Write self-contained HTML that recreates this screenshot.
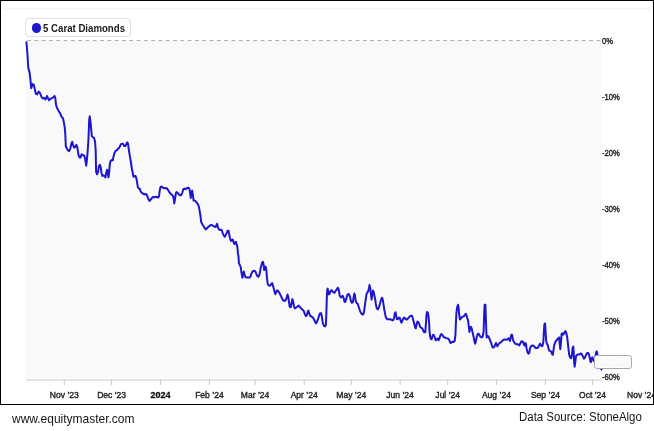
<!DOCTYPE html>
<html><head><meta charset="utf-8"><style>
html,body{margin:0;padding:0;background:#fff;}
body{width:654px;height:431px;position:relative;overflow:hidden;font-family:"Liberation Sans",Arial,sans-serif;}
#box{position:absolute;left:0;top:0;width:654px;height:405px;border:1px solid #000;box-sizing:border-box;}
#bar{position:absolute;left:2px;top:8px;width:649px;height:2px;background:#f7f7f7;border-radius:1px;}
svg{position:absolute;left:0;top:0;}
.xl{font-size:9px;fill:#262626;stroke:#262626;stroke-width:0.4px;}
.b{font-weight:bold;fill:#111;stroke:#111;stroke-width:0.3px;}
.yl{font-size:9px;fill:#262626;stroke:#262626;stroke-width:0.4px;}
#legend{position:absolute;left:25px;top:18px;width:106px;height:19px;border:1px solid #dde0e6;border-radius:4px;box-sizing:border-box;background:#fff;}
#dot{position:absolute;left:31.5px;top:23.3px;width:9.6px;height:9.6px;border-radius:50%;background:#1e16cc;}
#ltext{position:absolute;left:43px;top:21px;font-size:11px;font-weight:bold;color:#1a1a1a;line-height:14px;white-space:nowrap;transform:scaleX(0.877);transform-origin:0 0;}
#tip{position:absolute;left:594px;top:355px;width:37.5px;height:13.6px;border:1px solid #a9a9a9;border-radius:3px;box-sizing:border-box;background:#f9f9f9;box-shadow:inset 0 0 0 1px #fff;font-size:8.5px;color:#fff;text-align:center;line-height:11.6px;white-space:nowrap;overflow:hidden;}
#f1{position:absolute;left:12px;top:411px;font-size:13px;color:#151515;white-space:nowrap;transform:scaleX(0.921);transform-origin:0 0;}
#f2{position:absolute;left:519px;top:410px;font-size:12px;color:#151515;white-space:nowrap;transform:scaleX(0.954);transform-origin:0 0;}
</style></head><body>
<div id="box"></div>
<div id="bar"></div>
<svg width="654" height="405" viewBox="0 0 654 405">
<rect x="26" y="41" width="575.5" height="337" fill="#f9f9f9"/>
<line x1="27" y1="40.5" x2="601.5" y2="40.5" stroke="#b0b0b0" stroke-width="1" stroke-dasharray="4 3.3"/>
<line x1="26" y1="380" x2="601.5" y2="380" stroke="#dadada" stroke-width="1.5"/>
<line x1="64.3" y1="380" x2="64.3" y2="385" stroke="#c8c8c8" stroke-width="1"/>
<line x1="111.6" y1="380" x2="111.6" y2="385" stroke="#c8c8c8" stroke-width="1"/>
<line x1="160.5" y1="380" x2="160.5" y2="385" stroke="#c8c8c8" stroke-width="1"/>
<line x1="209.4" y1="380" x2="209.4" y2="385" stroke="#c8c8c8" stroke-width="1"/>
<line x1="255.1" y1="380" x2="255.1" y2="385" stroke="#c8c8c8" stroke-width="1"/>
<line x1="304.2" y1="380" x2="304.2" y2="385" stroke="#c8c8c8" stroke-width="1"/>
<line x1="351.3" y1="380" x2="351.3" y2="385" stroke="#c8c8c8" stroke-width="1"/>
<line x1="400.1" y1="380" x2="400.1" y2="385" stroke="#c8c8c8" stroke-width="1"/>
<line x1="447.7" y1="380" x2="447.7" y2="385" stroke="#c8c8c8" stroke-width="1"/>
<line x1="496.4" y1="380" x2="496.4" y2="385" stroke="#c8c8c8" stroke-width="1"/>
<line x1="545.4" y1="380" x2="545.4" y2="385" stroke="#c8c8c8" stroke-width="1"/>
<line x1="592.6" y1="380" x2="592.6" y2="385" stroke="#c8c8c8" stroke-width="1"/>
<text transform="translate(64.3,397.5) scale(0.95,1)" text-anchor="middle" class="xl">Nov &#8217;23</text>
<text transform="translate(111.6,397.5) scale(0.95,1)" text-anchor="middle" class="xl">Dec &#8217;23</text>
<text transform="translate(160.5,397.5) scale(1.0,1)" text-anchor="middle" class="xl b">2024</text>
<text transform="translate(209.4,397.5) scale(0.95,1)" text-anchor="middle" class="xl">Feb &#8217;24</text>
<text transform="translate(255.1,397.5) scale(0.95,1)" text-anchor="middle" class="xl">Mar &#8217;24</text>
<text transform="translate(304.2,397.5) scale(0.95,1)" text-anchor="middle" class="xl">Apr &#8217;24</text>
<text transform="translate(351.3,397.5) scale(0.95,1)" text-anchor="middle" class="xl">May &#8217;24</text>
<text transform="translate(400.1,397.5) scale(0.95,1)" text-anchor="middle" class="xl">Jun &#8217;24</text>
<text transform="translate(447.7,397.5) scale(0.95,1)" text-anchor="middle" class="xl">Jul &#8217;24</text>
<text transform="translate(496.4,397.5) scale(0.95,1)" text-anchor="middle" class="xl">Aug &#8217;24</text>
<text transform="translate(545.4,397.5) scale(0.95,1)" text-anchor="middle" class="xl">Sep &#8217;24</text>
<text transform="translate(592.6,397.5) scale(0.95,1)" text-anchor="middle" class="xl">Oct &#8217;24</text>
<text transform="translate(641.5,397.5) scale(0.95,1)" text-anchor="middle" class="xl">Nov &#8217;24</text>
<text transform="translate(602,43.6) scale(0.85,1)" class="yl">0%</text>
<text transform="translate(602,99.7) scale(0.85,1)" class="yl">-10%</text>
<text transform="translate(602,155.8) scale(0.85,1)" class="yl">-20%</text>
<text transform="translate(602,211.9) scale(0.85,1)" class="yl">-30%</text>
<text transform="translate(602,268.0) scale(0.85,1)" class="yl">-40%</text>
<text transform="translate(602,324.1) scale(0.85,1)" class="yl">-50%</text>
<text transform="translate(602,380.2) scale(0.85,1)" class="yl">-60%</text>
<path d="M26.4 42.2 L27.5 54.7 L28.2 67.2 L29.6 72.8 L30.3 78.4 L31.2 88.1 L32.6 84.0 L33.7 84.7 L34.9 89.5 L35.8 93.7 L37.2 94.4 L38.6 91.6 L40.0 93.0 L41.4 96.7 L42.8 98.5 L44.2 97.8 L45.6 99.5 L47.0 96.0 L47.9 98.1 L49.1 100.2 L50.4 98.8 L51.8 98.1 L53.2 97.4 L54.6 96.0 L55.3 98.1 L56.0 104.4 L57.0 107.9 L58.8 111.3 L60.2 113.4 L61.6 116.9 L63.0 118.3 L64.0 123.2 L64.8 128.0 L65.3 134.3 L65.8 146.2 L67.0 148.7 L68.1 150.4 L69.1 151.1 L70.4 148.3 L71.4 143.4 L72.3 141.8 L73.2 145.5 L74.2 147.6 L75.3 146.9 L76.4 144.8 L77.4 147.6 L78.4 154.6 L79.5 157.4 L80.6 157.4 L81.6 154.3 L83.0 155.3 L84.4 155.7 L85.3 160.1 L86.2 165.7 L86.9 160.1 L87.6 151.8 L88.3 142.0 L88.8 130.9 L89.2 119.7 L89.7 116.3 L90.4 121.1 L91.1 128.1 L91.8 135.8 L92.7 137.2 L94.1 137.9 L95.1 142.0 L95.7 150.9 L96.1 171.8 L97.1 174.3 L98.1 171.8 L98.9 166.2 L99.9 164.8 L100.8 167.6 L101.5 173.2 L102.4 176.0 L103.4 175.3 L104.5 176.0 L105.4 177.4 L106.4 171.8 L107.1 169.7 L108.0 174.6 L108.5 177.4 L109.2 171.8 L109.8 164.1 L110.6 160.9 L111.7 159.9 L112.8 160.4 L113.5 156.5 L114.5 153.0 L115.6 150.9 L117.0 150.2 L118.0 148.8 L119.0 148.1 L120.1 146.0 L121.2 143.9 L122.3 143.6 L123.3 144.3 L124.2 146.0 L125.4 146.0 L126.3 144.3 L127.3 142.3 L128.1 143.9 L128.8 149.5 L129.8 155.8 L130.9 162.0 L131.9 169.0 L132.4 171.3 L133.5 176.8 L134.5 176.1 L135.6 176.1 L136.5 178.9 L137.2 183.1 L137.9 187.3 L138.8 188.4 L139.7 188.7 L140.7 191.5 L141.8 192.9 L143.2 193.6 L144.2 194.5 L145.3 194.0 L146.4 194.2 L147.4 196.3 L148.4 199.1 L149.5 200.9 L150.6 199.8 L151.6 198.4 L152.7 197.0 L154.0 197.3 L155.1 197.0 L156.2 196.8 L157.3 197.0 L158.1 197.7 L159.0 196.3 L159.7 190.8 L160.4 187.3 L161.3 186.6 L162.3 187.0 L163.4 188.0 L164.5 188.4 L165.8 188.0 L166.9 188.4 L167.9 189.8 L169.0 191.5 L169.9 193.0 L171.3 194.4 L172.7 195.5 L173.6 197.9 L174.3 203.4 L175.0 199.2 L175.9 193.0 L176.6 192.0 L177.8 193.0 L178.9 194.4 L180.3 195.5 L181.4 194.8 L182.4 192.3 L183.4 189.2 L184.5 188.5 L185.6 189.2 L187.0 188.1 L188.4 187.8 L189.4 188.8 L190.1 193.0 L190.8 197.9 L191.5 192.3 L192.2 190.6 L192.9 195.1 L193.6 200.6 L194.5 200.4 L195.6 201.3 L196.8 202.7 L198.1 204.5 L199.1 207.6 L199.8 211.8 L200.5 216.0 L201.1 221.7 L202.5 224.5 L204.2 227.3 L205.8 229.4 L207.7 227.6 L209.5 225.9 L211.1 224.8 L212.8 225.6 L214.3 226.6 L215.6 227.0 L216.4 225.2 L217.1 223.8 L217.8 226.6 L218.8 229.4 L220.2 230.1 L221.6 229.8 L222.6 232.9 L223.7 235.4 L224.8 236.8 L225.8 234.9 L226.7 232.9 L227.6 230.8 L228.6 230.8 L229.2 234.2 L229.9 237.7 L230.9 240.9 L231.8 240.5 L232.7 239.5 L233.7 242.6 L234.4 244.0 L235.1 242.3 L235.9 241.9 L236.6 244.0 L237.3 246.8 L238.0 253.7 L238.5 256.1 L238.9 263.1 L239.9 265.2 L240.8 267.3 L241.5 272.9 L242.4 277.7 L243.1 274.2 L243.8 271.5 L244.5 274.2 L245.4 277.0 L246.8 277.5 L248.2 277.5 L249.6 277.5 L250.6 276.3 L251.4 273.6 L252.4 271.7 L253.8 270.8 L255.2 271.2 L256.2 273.6 L257.3 275.9 L258.3 276.8 L259.4 275.0 L260.3 270.1 L261.2 265.9 L262.2 262.4 L262.9 261.7 L263.6 264.5 L264.2 270.1 L264.9 268.0 L265.6 266.6 L266.3 269.4 L267.0 278.4 L267.7 284.0 L268.7 285.4 L269.8 285.8 L270.9 284.7 L272.1 283.1 L273.1 286.1 L274.2 290.3 L275.3 294.2 L276.3 291.7 L277.2 290.3 L278.4 291.4 L279.5 293.1 L280.9 295.9 L282.3 299.0 L283.6 300.8 L285.0 300.8 L286.0 299.4 L286.7 297.3 L287.5 294.5 L288.4 297.3 L289.1 302.9 L289.8 307.0 L290.9 307.0 L291.7 302.2 L292.4 299.0 L293.1 301.5 L294.0 306.3 L294.8 308.4 L296.0 307.7 L297.2 306.8 L298.6 305.6 L299.7 306.8 L300.9 308.2 L302.3 309.5 L303.7 310.9 L304.8 314.0 L305.9 316.1 L306.9 315.4 L307.8 311.3 L308.5 310.6 L309.2 313.4 L310.2 315.9 L311.3 316.5 L312.7 317.3 L313.8 319.0 L314.7 321.1 L315.9 323.2 L316.8 322.5 L317.8 319.7 L318.9 316.2 L320.0 313.4 L321.0 313.1 L321.7 315.5 L322.4 320.4 L323.1 323.9 L324.1 326.0 L325.2 326.4 L325.9 324.6 L326.3 314.8 L326.6 305.1 L326.9 295.3 L327.3 289.7 L327.7 288.6 L328.4 291.8 L329.0 294.6 L329.7 293.2 L330.3 291.8 L331.5 290.0 L332.6 291.4 L333.6 292.3 L334.5 292.8 L335.6 290.9 L336.8 289.5 L337.7 287.7 L338.4 288.4 L339.1 291.8 L339.8 296.0 L340.9 297.4 L341.9 296.7 L342.7 295.7 L343.6 297.8 L344.5 301.7 L345.3 302.0 L346.3 298.9 L347.2 295.4 L348.1 294.0 L349.1 294.4 L350.0 296.8 L350.9 301.0 L351.8 302.8 L352.8 302.4 L353.6 297.5 L354.3 293.6 L355.0 295.4 L355.7 301.0 L356.7 303.1 L357.7 303.8 L358.8 307.2 L359.8 310.3 L360.9 312.8 L362.0 314.2 L363.0 314.5 L364.0 312.1 L364.8 305.9 L365.8 298.9 L366.7 293.3 L367.9 291.9 L368.8 289.1 L369.5 285.0 L370.2 287.7 L370.9 294.0 L371.6 299.6 L372.3 294.7 L373.0 290.5 L373.7 291.9 L374.5 296.1 L375.5 301.0 L375.7 303.2 L376.7 308.1 L377.8 309.5 L378.9 307.4 L379.9 303.9 L380.8 300.4 L382.0 297.7 L382.7 299.1 L383.4 303.9 L384.3 309.5 L385.2 314.4 L386.1 317.9 L387.3 319.2 L388.6 319.2 L390.0 319.2 L391.4 319.7 L392.4 320.4 L393.4 319.9 L394.2 317.2 L394.9 313.0 L395.6 312.3 L396.2 315.8 L396.9 319.2 L398.0 319.0 L399.0 317.6 L399.8 317.9 L400.8 321.3 L401.5 322.7 L402.4 320.6 L403.6 317.9 L404.5 317.6 L405.6 319.2 L407.0 319.5 L408.4 317.9 L409.8 316.5 L411.1 315.6 L412.1 315.9 L413.1 319.4 L414.2 323.6 L415.2 327.7 L415.8 328.4 L416.7 324.2 L417.4 321.5 L418.4 322.2 L419.3 324.2 L420.2 327.0 L421.1 327.7 L422.3 328.4 L423.2 330.5 L424.2 332.3 L425.3 332.3 L426.0 322.9 L426.4 315.9 L427.0 312.0 L427.7 312.4 L428.4 315.2 L429.1 322.9 L429.5 331.2 L430.2 336.8 L430.9 338.9 L431.6 339.3 L432.3 336.8 L433.0 334.7 L434.0 335.4 L434.8 337.5 L435.8 340.3 L436.7 339.3 L437.6 338.5 L438.6 340.3 L439.5 338.2 L440.4 335.4 L441.3 334.0 L442.3 334.7 L443.4 336.8 L444.8 337.5 L446.3 338.1 L447.8 338.5 L448.9 339.3 L449.9 341.7 L450.6 343.0 L451.5 342.4 L452.7 341.7 L453.6 342.1 L454.7 341.0 L455.4 335.4 L455.9 322.9 L456.4 313.1 L457.1 307.5 L458.0 304.7 L458.6 307.5 L459.2 314.5 L459.9 319.4 L460.7 318.7 L461.7 317.3 L462.8 316.6 L463.8 316.2 L464.8 315.2 L465.6 313.8 L466.3 314.5 L467.0 317.3 L468.0 320.1 L468.7 325.6 L469.4 331.9 L470.1 329.1 L470.8 326.8 L471.7 328.4 L472.6 332.6 L473.6 336.8 L474.5 341.7 L475.2 343.7 L475.9 341.0 L476.8 336.8 L477.7 334.0 L478.7 333.7 L479.5 335.4 L480.5 336.8 L481.5 337.5 L482.6 336.8 L483.6 331.5 L484.1 315.9 L484.6 304.7 L485.4 304.7 L485.8 315.9 L486.3 331.2 L486.7 337.5 L487.7 336.1 L488.6 336.5 L489.5 338.9 L490.4 341.0 L491.4 343.7 L492.5 347.2 L493.5 347.6 L494.5 346.5 L495.3 344.4 L496.0 343.0 L496.7 345.1 L497.4 346.3 L498.4 344.4 L499.5 343.0 L500.6 342.4 L501.6 341.7 L502.7 340.3 L504.0 339.6 L505.3 339.6 L506.5 339.8 L507.6 339.3 L508.6 338.2 L509.2 338.9 L509.9 341.0 L510.6 338.2 L511.3 334.7 L512.0 334.7 L512.7 338.2 L513.4 341.0 L514.4 342.6 L515.5 343.8 L516.5 344.2 L517.6 344.3 L518.7 344.7 L519.2 345.4 L520.3 343.6 L521.3 341.5 L522.2 341.2 L523.1 342.2 L523.8 344.2 L524.5 345.6 L525.2 342.9 L525.9 343.6 L526.6 348.4 L527.5 352.3 L528.5 353.7 L529.3 352.6 L530.0 348.4 L531.0 346.3 L532.0 345.6 L533.1 345.6 L534.2 346.3 L535.2 347.7 L536.2 348.1 L537.3 348.1 L538.4 347.0 L539.4 344.9 L540.1 343.6 L540.8 344.9 L541.7 346.3 L542.6 345.6 L543.3 342.2 L543.8 333.1 L544.4 324.1 L545.1 323.4 L545.6 331.7 L546.1 340.1 L546.8 343.6 L547.7 344.9 L548.4 347.7 L549.1 350.5 L550.1 350.9 L551.1 351.5 L552.1 354.1 L552.8 354.8 L553.5 349.9 L554.2 345.1 L555.2 342.3 L556.3 340.6 L557.2 339.5 L558.4 338.1 L559.2 337.4 L559.7 343.7 L560.3 349.2 L560.9 343.7 L561.6 333.9 L562.3 333.2 L563.0 334.6 L563.9 333.9 L564.8 331.8 L565.5 331.1 L566.3 333.2 L567.1 336.7 L567.8 342.3 L568.5 349.2 L569.2 354.8 L570.2 357.6 L571.2 358.3 L571.9 354.8 L572.6 347.9 L573.3 346.5 L573.7 352.0 L574.1 361.8 L574.7 366.7 L575.3 361.8 L576.0 356.2 L577.0 354.9 L578.1 354.5 L579.1 354.4 L580.2 353.8 L581.0 353.5 L581.9 354.5 L583.0 356.6 L584.0 358.6 L584.9 357.7 L585.9 355.2 L587.1 353.1 L588.2 353.0 L588.9 354.2 L589.6 357.0 L590.3 360.8 L590.8 362.2 L591.3 360.8 L591.9 358.0 L592.4 357.3 L592.8 358.4 L593.4 360.1 L594.0 361.1 L594.8 359.5 L595.8 354.5 L596.4 351.4 L596.9 351.4 L597.4 354.5 L598.2 360.0 L599.5 366.0 L600.7 368.1 L601.6 369.5" fill="none" stroke="#1e16cc" stroke-width="2" stroke-linejoin="round" stroke-linecap="round"/>
</svg>
<div id="legend"></div>
<div id="dot"></div>
<div id="ltext">5 Carat Diamonds</div>
<div id="tip">-57.9%</div>
<div id="f1">www.equitymaster.com</div>
<div id="f2">Data Source: StoneAlgo</div>
</body></html>
